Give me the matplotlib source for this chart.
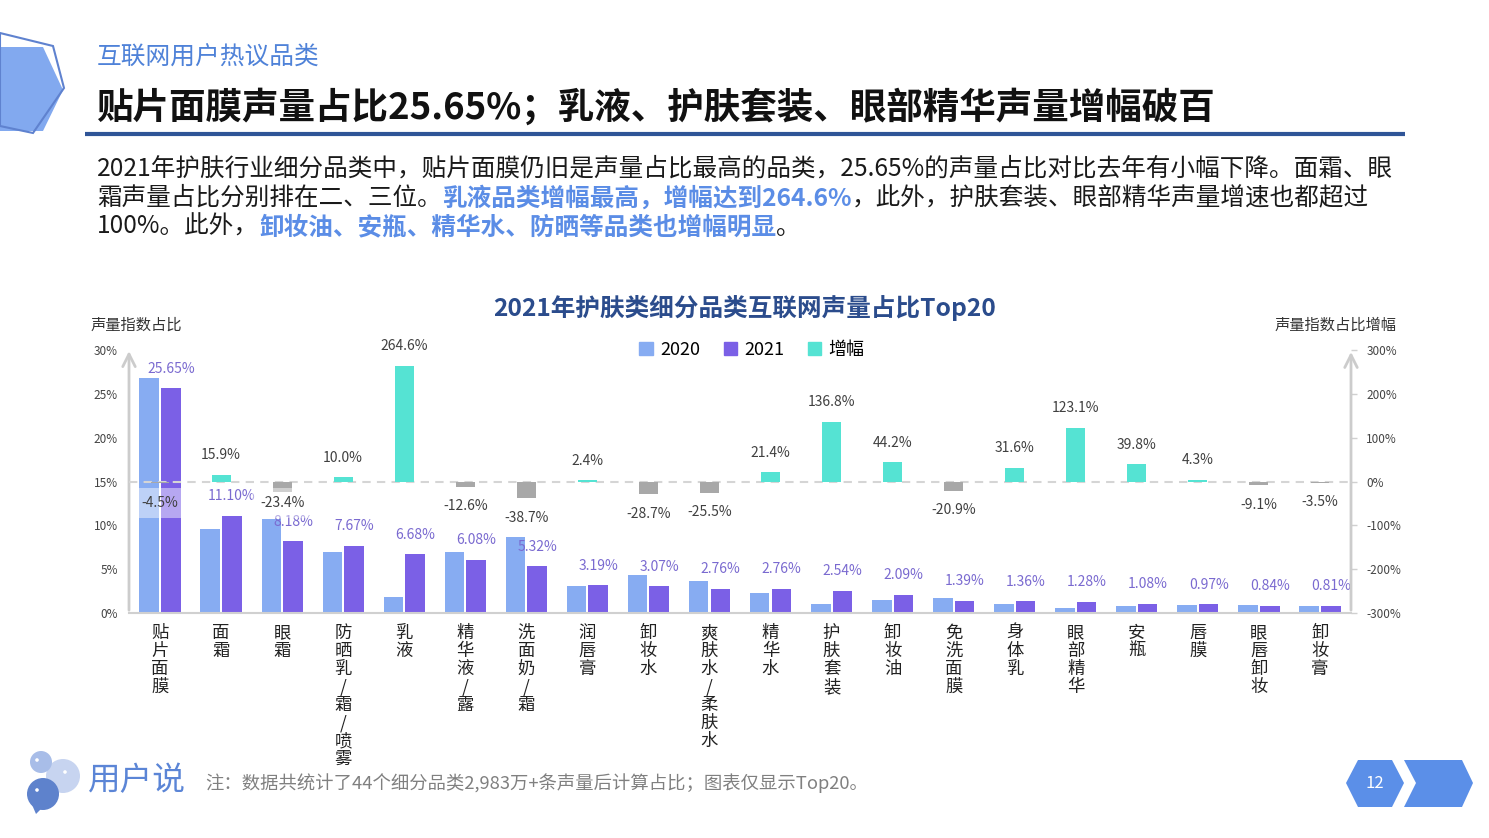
import numpy as np
import matplotlib
matplotlib.use("Agg")
import matplotlib.pyplot as plt
from matplotlib.patches import Polygon, Circle

plt.rcParams["font.family"] = ["Noto Sans CJK SC", "DejaVu Sans"]

# ── Data ───────────────────────────────────────────────────────
categories = ["贴片面膜", "面霜", "眼霜", "防晒乳/霜/喷雾", "乳液", "精华液/露",
              "洗面奶/霜", "润唇膏", "卸妆水", "爽肤水/柔肤水", "精华水", "护肤套装",
              "卸妆油", "免洗面膜", "身体乳", "眼部精华", "安瓶", "唇膜", "眼唇卸妆", "卸妆膏"]
share_2020 = [26.86, 9.58, 10.68, 6.97, 1.83, 6.96, 8.68, 3.12, 4.31, 3.70,
              2.27, 1.07, 1.45, 1.76, 1.03, 0.57, 0.77, 0.93, 0.92, 0.84]
share_2021 = [25.65, 11.10, 8.18, 7.67, 6.68, 6.08, 5.32, 3.19, 3.07, 2.76,
              2.76, 2.54, 2.09, 1.39, 1.36, 1.28, 1.08, 0.97, 0.84, 0.81]
growth = [-4.5, 15.9, -23.4, 10.0, 264.6, -12.6, -38.7, 2.4, -28.7, -25.5,
          21.4, 136.8, 44.2, -20.9, 31.6, 123.1, 39.8, 4.3, -9.1, -3.5]
left_ticks = [0, 5, 10, 15, 20, 25, 30]
right_ticks = [-300, -200, -100, 0, 100, 200, 300]

# colours
C2020 = "#87ACF2"
C2021 = "#7B60E6"
CPOS = "#55E3D3"
CNEG = "#A8A8A8"
CLAB = "#7A6AD0"
BLUE = "#5B8DE6"

W, H = 1489, 838
fig = plt.figure(figsize=(W / 100, H / 100), dpi=100)


def px_rect(x0, y0, x1, y1):
    return [x0 / W, 1 - y1 / H, (x1 - x0) / W, (y1 - y0) / H]


# ── Page background layer (pixel coordinates) ──────────────────
bg = fig.add_axes([0, 0, 1, 1])
bg.set_xlim(0, W)
bg.set_ylim(H, 0)
bg.axis("off")

bg.add_patch(Polygon([(0, 47), (43, 47), (63, 90), (43, 131), (0, 131)],
                     closed=True, color="#82A9EF", lw=0))
bg.add_patch(Polygon([(0, 33), (53, 46), (64, 88), (33, 133), (0, 126)],
                     closed=True, fill=False, ec="#5F82CF", lw=1.5))

bg.text(97, 57, "互联网用户热议品类", fontsize=17.8, color="#4F82D8", va="center")
bg.text(97, 108, "贴片面膜声量占比25.65%；乳液、护肤套装、眼部精华声量增幅破百",
        fontsize=26.3, fontweight="bold", color="#111111", va="center")
bg.plot([85, 1405], [134, 134], color="#2F5597", lw=3, solid_capstyle="butt")

# paragraph with highlighted pieces
para = [
    [("2021年护肤行业细分品类中，贴片面膜仍旧是声量占比最高的品类，25.65%的声量占比对比去年有小幅下降。面霜、眼", False)],
    [("霜声量占比分别排在二、三位。", False), ("乳液品类增幅最高，增幅达到264.6%", True),
     ("，此外，护肤套装、眼部精华声量增速也都超过", False)],
    [("100%。此外，", False), ("卸妆油、安瓶、精华水、防晒等品类也增幅明显", True), ("。", False)],
]
line_y = [168, 198, 227]
renderer = fig.canvas.get_renderer()
for pieces, yy in zip(para, line_y):
    xx = 97
    for txt, hl in pieces:
        t = bg.text(xx, yy, txt, fontsize=17.7, va="center",
                    color=BLUE if hl else "#1A1A1A",
                    fontweight="bold" if hl else "normal")
        xx += t.get_window_extent(renderer).width

# footer: logo, note, page number
bg.add_patch(Circle((63, 776), 17, color="#C7D4F0", lw=0))
bg.add_patch(Circle((41, 762), 11, color="#A8BDE8", lw=0))
bg.add_patch(Polygon([(30, 800), (36, 814), (46, 804)], closed=True, color="#5E82CC", lw=0))
bg.add_patch(Circle((43, 794), 16, color="#5E82CC", lw=0))
bg.add_patch(Circle((37, 760), 1.8, color="white", lw=0))
bg.add_patch(Circle((65, 772), 1.8, color="white", lw=0))
bg.add_patch(Circle((37, 790), 1.8, color="white", lw=0))
bg.text(88, 781, "用户说", fontsize=23.5, color="#5B85D6", va="center")
bg.text(205, 783, "注：数据共统计了44个细分品类2,983万+条声量后计算占比；图表仅显示Top20。",
        fontsize=13.2, color="#808080", va="center")
bg.add_patch(Polygon([(1346, 783), (1358, 760), (1392, 760), (1404, 783), (1392, 807), (1358, 807)],
                     closed=True, color="#5B8FE8", lw=0))
bg.text(1375, 783, "12", fontsize=12, color="white", ha="center", va="center")
bg.add_patch(Polygon([(1404, 760), (1462, 760), (1473, 783), (1462, 807), (1404, 807), (1416, 783)],
                     closed=True, color="#5B8FE8", lw=0))

# chart title and axis names
bg.text(745, 308, "2021年护肤类细分品类互联网声量占比Top20", fontsize=17.7,
        fontweight="bold", color="#2B4C8C", ha="center", va="center")
bg.text(91, 325, "声量指数占比", fontsize=11, color="#333333", va="center")
bg.text(1397, 325, "声量指数占比增幅", fontsize=11, color="#333333", va="center", ha="right")

# ── Chart ──────────────────────────────────────────────────────
ax = fig.add_axes(px_rect(129, 350, 1351, 613))
ax.set_facecolor("none")
x = np.arange(len(categories))
xl = (-0.508, len(categories) - 1 + 0.508)

ax.bar(x - 0.177, share_2020, width=0.32, color=C2020, label="2020", zorder=2)
ax.bar(x + 0.177, share_2021, width=0.32, color=C2021, label="2021", zorder=2)
for xi, v in zip(x, share_2021):
    ax.annotate(f"{v:.2f}%", (xi + 0.177, v), xytext=(0, 14), textcoords="offset points",
                ha="center", va="center", fontsize=10, color=CLAB, zorder=3)

ax.set_xlim(*xl)
ax.set_ylim(0, 30)
ax.set_yticks(left_ticks)
ax.set_yticklabels([f"{v}%" for v in left_ticks])
ax.tick_params(axis="y", length=0, pad=8, labelsize=8.5, labelcolor="#444444")
ax.set_xticks(x)
ax.set_xticklabels(["\n".join(c) for c in categories], fontsize=12.5, color="#222222", va="top")
for lbl in ax.get_xticklabels():
    lbl.set_linespacing(1.0)
ax.tick_params(axis="x", length=0, pad=8)
for s in ["top", "left", "right"]:
    ax.spines[s].set_visible(False)
ax.spines["bottom"].set_color("#D0D0D0")
ax.spines["bottom"].set_linewidth(1.5)

ax.annotate("", xy=(xl[0], 30.2), xytext=(xl[0], 0), xycoords="data",
            arrowprops=dict(arrowstyle="->,head_length=0.9,head_width=0.45",
                            color="#CCCCCC", lw=2), annotation_clip=False)

ax2 = ax.twinx()
ax2.set_facecolor("none")
ax2.set_ylim(-300, 300)
ax2.set_xlim(*xl)
ax2.axhline(0, color="#D5D5D5", lw=1.5, ls=(0, (4, 3)), zorder=1)
gcols = [CPOS if g >= 0 else CNEG for g in growth]
ax2.bar(x, growth, width=0.31, color=gcols, zorder=2)
for i, (xi, g) in enumerate(zip(x, growth)):
    off = 14 if g >= 0 else -14
    if i == 2:
        off = -8  # keep clear of the 8.18% label below
    ax2.annotate(f"{g:.1f}%", (xi, g), xytext=(0, off), textcoords="offset points",
                 ha="center", va="center", fontsize=10, color="#404040", zorder=4,
                 bbox=dict(boxstyle="square,pad=0.55", fc="white", ec="none", alpha=0.45))
ax2.set_yticks(right_ticks)
ax2.set_yticklabels([f"{v}%" for v in right_ticks])
ax2.tick_params(axis="y", length=4, width=1, color="#D0D0D0", pad=7,
                labelsize=8.5, labelcolor="#444444")
for s in ["top", "left", "right", "bottom"]:
    ax2.spines[s].set_visible(False)
ax2.annotate("", xy=(xl[1], 302), xytext=(xl[1], -300), xycoords="data",
             arrowprops=dict(arrowstyle="->,head_length=0.9,head_width=0.45",
                             color="#CCCCCC", lw=2), annotation_clip=False)

# legend
h1 = plt.Rectangle((0, 0), 1, 1, color=C2020)
h2 = plt.Rectangle((0, 0), 1, 1, color=C2021)
h3 = plt.Rectangle((0, 0), 1, 1, color=CPOS)
fig.legend([h1, h2, h3], ["2020", "2021", "增幅"], loc="center",
           bbox_to_anchor=(752 / W, 1 - 350 / H), ncol=3, frameon=False,
           fontsize=13, handlelength=0.75, handleheight=0.75,
           handletextpad=0.4, columnspacing=1.3)

fig.savefig("out.png", dpi=100)
